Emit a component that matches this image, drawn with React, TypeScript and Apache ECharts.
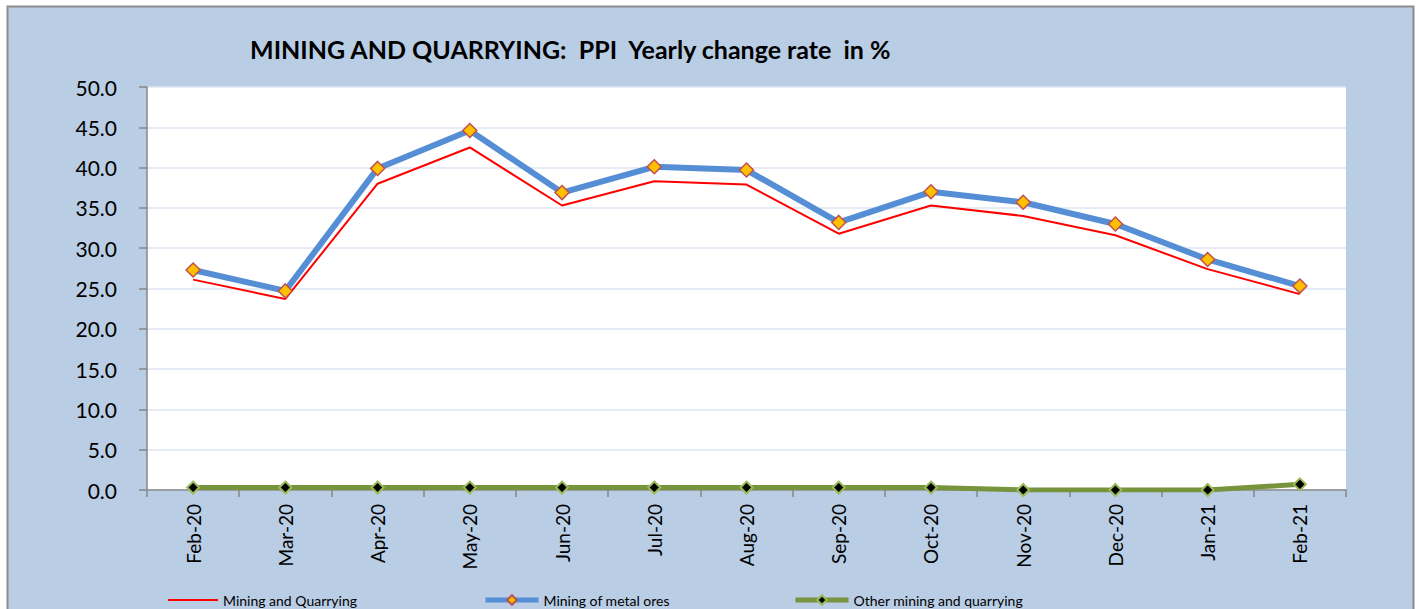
import React, { useEffect, useRef } from "react";
import * as echarts from "echarts";

const categories = ["Feb-20", "Mar-20", "Apr-20", "May-20", "Jun-20", "Jul-20", "Aug-20", "Sep-20", "Oct-20", "Nov-20", "Dec-20", "Jan-21", "Feb-21"];
const miningAndQuarrying = [26.1, 23.7, 38.0, 42.5, 35.3, 38.3, 37.9, 31.8, 35.3, 34.0, 31.6, 27.4, 24.3];
const metalOres = [27.3, 24.7, 39.9, 44.6, 36.9, 40.1, 39.7, 33.2, 37.0, 35.7, 33.0, 28.6, 25.3];
const otherMining = [0.3, 0.3, 0.3, 0.3, 0.3, 0.3, 0.3, 0.3, 0.3, 0.0, 0.0, 0.0, 0.7];
const yMin = 0;
const yMax = 50;
const yInterval = 5;

const FONT = "Lato";

export default function App() {
  const ref = useRef<HTMLDivElement>(null);
  useEffect(() => {
    if (!ref.current) return;
    const chart = echarts.init(ref.current, undefined, { renderer: "svg" });
    const legendBase = {
      orient: "horizontal",
      selectedMode: false,
      top: 593,
      padding: 0,
      textStyle: { fontFamily: FONT, fontSize: 14, color: "#000" },
    };
    chart.setOption({
      animation: false,
      backgroundColor: "#ffffff",
      graphic: [
        {
          type: "rect",
          z: -100,
          silent: true,
          shape: { x: 7.5, y: 6.5, width: 1406, height: 640 },
          style: { fill: "#B9CDE5", stroke: "#8C8C8C", lineWidth: 2 },
        },
      ],
      title: {
        text: "MINING AND QUARRYING:  PPI  Yearly change rate  in %",
        left: 250,
        top: 36,
        padding: 0,
        textStyle: { fontFamily: FONT, fontWeight: "bold", fontSize: 25, color: "#000" },
      },
      grid: {
        left: 147,
        top: 87,
        width: 1199,
        height: 403,
        show: true,
        backgroundColor: "#ffffff",
        borderWidth: 0,
      },
      legend: [
        { ...legendBase, left: 168, itemWidth: 50, itemHeight: 2, data: [{ name: "Mining and Quarrying", icon: "rect" }] },
        { ...legendBase, left: 483, itemWidth: 53, itemHeight: 12, lineStyle: { width: 5 }, data: ["Mining of metal ores"] },
        { ...legendBase, left: 793, itemWidth: 53, itemHeight: 12, lineStyle: { width: 5 }, data: ["Other mining and quarrying"] },
      ],
      xAxis: {
        type: "category",
        data: categories,
        boundaryGap: true,
        axisLine: { show: true, lineStyle: { color: "#868686", width: 1.5 } },
        axisTick: { show: true, length: 7, lineStyle: { color: "#868686", width: 1.5 } },
        axisLabel: { rotate: 90, margin: 14, fontFamily: FONT, fontSize: 19, color: "#000" },
        splitLine: { show: false },
      },
      yAxis: {
        type: "value",
        min: yMin,
        max: yMax,
        interval: yInterval,
        axisLine: { show: true, lineStyle: { color: "#868686", width: 1.5 } },
        axisTick: { show: true, length: 8, lineStyle: { color: "#868686", width: 1.5 } },
        axisLabel: {
          margin: 30,
          fontFamily: FONT,
          fontSize: 21,
          color: "#000",
          formatter: (v: number) => v.toFixed(1),
        },
        splitLine: { show: true, lineStyle: { color: "#DCE6F2", width: 1.5 } },
      },
      series: [
        {
          name: "Mining and Quarrying",
          type: "line",
          data: miningAndQuarrying,
          symbol: "none",
          lineStyle: { color: "#FF0000", width: 2 },
          itemStyle: { color: "#FF0000" },
          z: 2,
        },
        {
          name: "Mining of metal ores",
          type: "line",
          data: metalOres,
          symbol: "diamond",
          symbolSize: 14,
          lineStyle: { color: "#558ED5", width: 6 },
          itemStyle: { color: "#FFC000", borderColor: "#C0504D", borderWidth: 1.5 },
          z: 3,
        },
        {
          name: "Other mining and quarrying",
          type: "line",
          data: otherMining,
          symbol: "diamond",
          symbolSize: 12,
          lineStyle: { color: "#77933C", width: 5 },
          itemStyle: { color: "#000000", borderColor: "#9BBB59", borderWidth: 2 },
          z: 4,
        },
      ],
    });
    return () => chart.dispose();
  }, []);
  return <div ref={ref} style={{ position: "fixed", left: 0, top: 0, width: 1419, height: 609 }} />;
}
